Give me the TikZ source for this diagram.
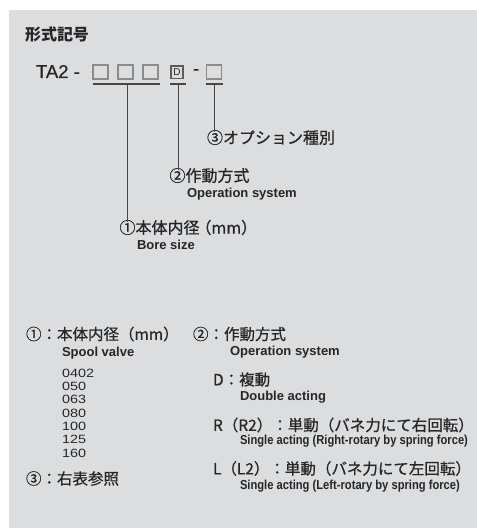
\documentclass[tikz,border=0pt]{standalone}
\usepackage{graphicx}
\usepackage{fontspec}
\setmainfont{Liberation Sans}
\newfontfamily\jp[FakeBold=0.7]{Noto Sans CJK JP}
\newfontfamily\jpbold{Noto Sans CJK JP}
\newfontfamily\medsans[FakeBold=0.6]{Liberation Sans}
\newfontfamily\cond[FakeStretch=0.86]{Liberation Sans}
\newfontfamily\wide[FakeStretch=1.2]{Liberation Sans}
\definecolor{bg}{HTML}{DCDDDF}
\definecolor{ink}{HTML}{262626}
\definecolor{boxc}{HTML}{8C8C8C}
\begin{document}
\begin{tikzpicture}[x=1pt,y=-1pt,
  every node/.style={inner sep=0pt, outer sep=0pt, text=ink, anchor=west},
  jpt/.style={font=\jpbold\bfseries\fontsize{16}{16}\selectfont},
  jpl/.style={font=\jp\fontsize{16}{16}\selectfont},
  jps/.style={font=\jp\fontsize{15.5}{15.5}\selectfont},
  en/.style={font=\bfseries\fontsize{13}{13}\selectfont},
  enc/.style={font=\cond\bfseries\fontsize{13}{13}\selectfont},
  slot/.style={draw=boxc, line width=1.2pt, minimum width=15pt, minimum height=14pt, anchor=north west},
  lead/.style={draw=ink!85, line width=1pt}]
\useasboundingbox (0,0) rectangle (477,528);
\fill[bg] (9,10) rectangle (477,528);

% title
\node[jpt] (title) at (25,34.5) {形式記号};
\node[font=\medsans\fontsize{18.5}{18.5}\selectfont] (code) at (36,71.5) {TA2 -};
\node[slot] (b1) at (93,65) {};
\node[slot] (b2) at (118,65) {};
\node[slot] (b3) at (143,65) {};
\node[slot, minimum width=12pt, minimum height=12.5pt, draw=ink!75, font=\fontsize{10}{10}\selectfont] (bD) at (171,66) {D};
\node[font=\medsans\fontsize{18.5}{18.5}\selectfont] (dash2) at (193,72) {-};
\node[slot] (b5) at (206.5,65) {};

% underlines
\coordinate (u1l) at (92.5,84); \coordinate (u1r) at (159.5,84); \coordinate (u1c) at (127,84);
\coordinate (u2l) at (170,84);  \coordinate (u2r) at (185.5,84); \coordinate (u2c) at (178,84);
\coordinate (u3l) at (205.5,84); \coordinate (u3r) at (223,84); \coordinate (u3c) at (214.5,84);
\draw[lead, line width=1.3pt] (u1l) -- (u1r);
\draw[lead, line width=1.3pt] (u2l) -- (u2r);
\draw[lead, line width=1.3pt] (u3l) -- (u3r);

% labels
\node[jpl] (lab3) at (207,137.5) {③オプション種別};
\node[jpl] (lab2) at (169.5,175.5) {②作動方式};
\node[en] (lab2e) at (187,194) {Operation system};
\node[jpl] (lab1) at (119.5,227.5) {①本体内径\kern-4pt（mm）};
\node[en] (lab1e) at (137,245) {Bore size};

\draw[lead] (u1c) -- ([yshift=-2pt]u1c |- lab1.north);
\draw[lead] (u2c) -- ([yshift=-2pt]u2c |- lab2.north);
\draw[lead] (u3c) -- ([yshift=-2pt]u3c |- lab3.north);

% bottom section
\node[jps] (h1) at (26,334) {①：本体内径（mm）};
\node[jps] (h2) at (193,334) {②：作動方式};
\node[en] (h1e) at (62,353) {Spool valve};
\node[en] (h2e) at (230,352.5) {Operation system};
\node[anchor=north west, align=left, font=\wide\fontsize{12}{13.3}\selectfont] (nums) at (62,369)
  {0402\\050\\063\\080\\100\\125\\160};
\node[jps] (h3) at (26,478.5) {③：右表参照};
\node[jps] (d) at (213,379.5) {D：複動};
\node[en] (de) at (240,397.5) {Double acting};
\node[jps] (r) at (213,425) {R（R2）：単動（バネ力にて右回転）};
\node[enc] (re) at (240,441.5) {Single acting (Right-rotary by spring force)};
\node[jps] (l) at (213,468.5) {L（L2）：単動（バネ力にて左回転）};
\node[enc] (le) at (240,486) {Single acting (Left-rotary by spring force)};
\end{tikzpicture}
\end{document}
